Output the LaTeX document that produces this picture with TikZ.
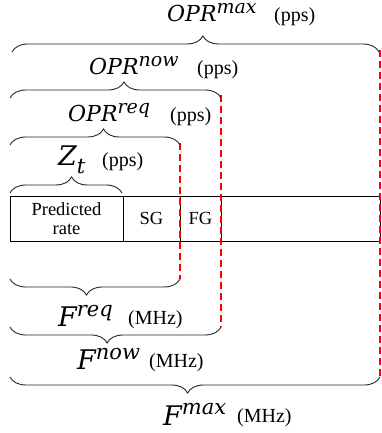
\documentclass[tikz,border=0pt]{standalone}
\usepackage{fontspec}
\setmainfont{Liberation Serif}
\newfontfamily\symfont{DejaVu Serif}
\usetikzlibrary{decorations.pathreplacing}

% italic symbol with a raised (superscript) or lowered (subscript) index
\newcommand\symsup[4]{{\symfont\itshape\fontsize{#1}{#1}\selectfont #2\raisebox{.4em}[0pt][0pt]{\fontsize{#3}{#3}\selectfont #4}}}
\newcommand\symsub[4]{{\symfont\itshape\fontsize{#1}{#1}\selectfont #2\raisebox{-.28em}{\fontsize{#3}{#3}\selectfont #4}}}

\tikzset{
  bracetop/.style args={#1}{draw=black!85, line width=0.9pt, decorate,
    decoration={brace, amplitude=16pt, aspect=#1}},
  bracebot/.style args={#1}{draw=black!85, line width=0.9pt, decorate,
    decoration={brace, mirror, amplitude=16pt, aspect=#1}},
  limit/.style={draw=red, line width=1.1pt, dash pattern=on 7pt off 4pt},
  cell/.style={draw=black, line width=0.9pt, minimum height=45pt, inner sep=0pt,
    align=center, font=\fontsize{18.5}{19}\selectfont},
  sym/.style={anchor=base west, inner sep=0pt},
  unit/.style={anchor=base west, inner sep=0pt, font=\fontsize{20}{20}\selectfont},
}

\begin{document}
\begin{tikzpicture}[x=1pt, y=1pt]
\useasboundingbox (0,0) rectangle (381,433);

% frequency band split into its parts
\node[cell, minimum width=113pt] (pred) at (66.5,214.5) {Predicted\\rate};
\node[cell, minimum width=57pt]  (sg)   at (151.5,214.5) {SG};
\node[cell, minimum width=41pt]  (fg)   at (200.5,214.5) {FG};
\node[cell, minimum width=159pt] (free) at (300.5,214.5) {};

% red limits of the required, current and maximum bands
\coordinate (reqtop) at (180,290);  \coordinate (reqbot) at (180,154);
\coordinate (nowtop) at (221,338);  \coordinate (nowbot) at (221,106);
\coordinate (maxtop) at (380,383);  \coordinate (maxbot) at (380,55);
\draw[limit] (reqtop) -- (reqbot);
\draw[limit] (nowtop) -- (nowbot);
\draw[limit] (maxtop) -- (maxbot);

% braces above the band: packet rates
\draw[bracetop=0.55] (10,240) -- (122,240);
\draw[bracetop=0.55] (10,288) -- (180,288);
\draw[bracetop=0.54] (10,335) -- (221,335);
\draw[bracetop=0.52] (12,381) -- (379,381);

% braces below the band: bandwidths
\draw[bracebot=0.45] (10,154) -- (180,154);
\draw[bracebot=0.46] (10,106) -- (221,106);
\draw[bracebot=0.48] (10,56) -- (380,56);

% rate labels
\node[sym] (zt) at (58,267) {\symsub{27}{Z}{21}{t}};
\node[unit] (ztu) at (102,266) {(pps)};
\node[sym] (oreq) at (68,311) {\symsup{22}{OPR}{19}{req}};
\node[unit] (orequ) at (170,311) {(pps)};
\node[sym] (onow) at (89,358) {\symsup{22}{OPR}{19}{now}};
\node[unit] (onowu) at (197,358) {(pps)};
\node[sym] (omax) at (167,411) {\symsup{22}{OPR}{19}{max}};
\node[unit] (omaxu) at (274,411) {(pps)};

% bandwidth labels
\node[sym] (freq) at (58,106) {\symsup{27}{F}{21}{req}};
\node[unit] (frequ) at (128,108) {(MHz)};
\node[sym] (fnow) at (77,63) {\symsup{27}{F}{21}{now}};
\node[unit] (fnowu) at (149,65) {(MHz)};
\node[sym] (fmax) at (163,8) {\symsup{27}{F}{21}{max}};
\node[unit] (fmaxu) at (237,10) {(MHz)};
\end{tikzpicture}
\end{document}
